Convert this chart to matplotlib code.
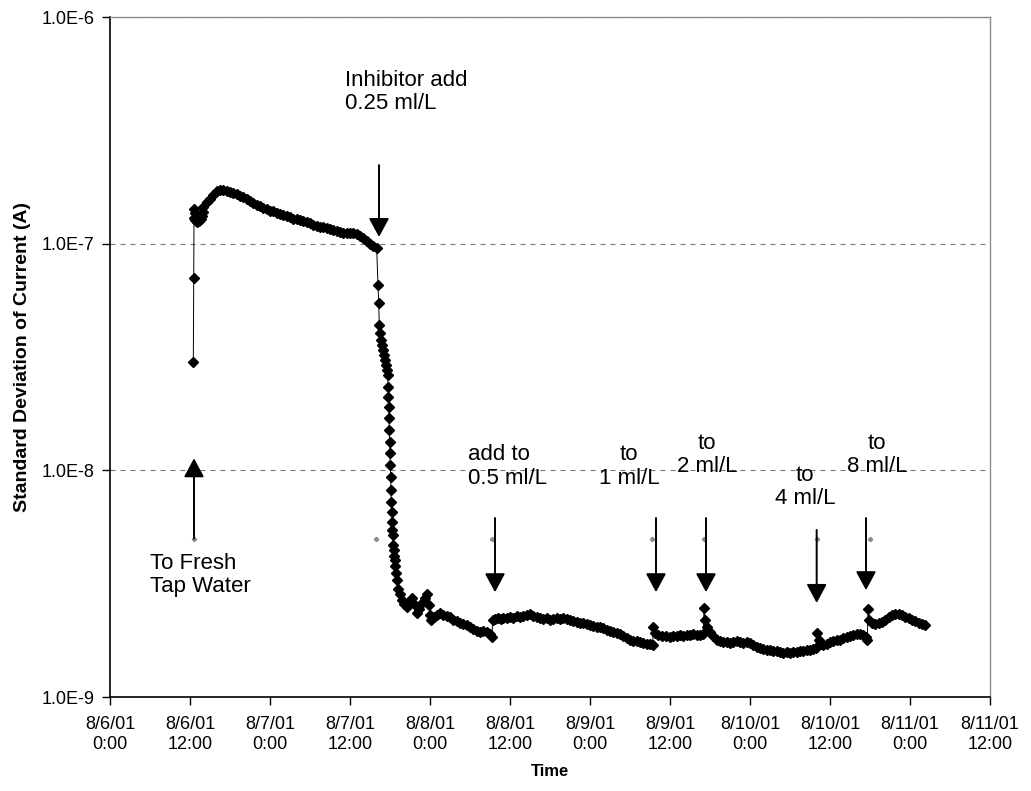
import datetime as dt

import matplotlib
matplotlib.use("Agg")
import matplotlib.pyplot as plt
import matplotlib.dates as mdates
import numpy as np
from matplotlib.ticker import FixedLocator, FuncFormatter, NullLocator

plt.rcParams["font.family"] = ["Liberation Sans", "DejaVu Sans"]

start = dt.datetime(2001, 8, 6, 0, 0)

# elapsed hours since 8/6/01 0:00 and the standard deviation of current (A)
hours = [
    12.50, 12.55, 12.60, 12.65, 12.70, 12.80, 12.90, 13.00, 13.15, 13.30,
    13.45, 13.60, 13.75, 13.90, 14.00,
    14.5, 15.0, 15.5, 16.0, 16.5, 17.0, 17.5, 18.0, 18.5, 19.0,
    19.5, 20.0, 20.5, 21.0, 21.5, 22.0, 22.5, 23.0, 23.5, 24.0,
    24.5, 25.0, 25.5, 26.0, 26.5, 27.0, 27.5, 28.0, 28.5, 29.0,
    29.5, 30.0, 30.5, 31.0, 31.5, 32.0, 32.5, 33.0, 33.5, 34.0,
    34.5, 35.0, 35.5, 36.0, 36.5, 37.0, 37.5, 38.0, 38.5, 39.0,
    39.5, 40.0,
    40.2, 40.3, 40.4, 40.5, 40.65, 40.8, 40.95, 41.1, 41.25, 41.4,
    41.55, 41.65, 41.7, 41.75, 41.8, 41.85, 41.9, 41.95, 42.0, 42.05,
    42.1, 42.15, 42.2, 42.25, 42.3, 42.35, 42.4, 42.5, 42.55, 42.65,
    42.7, 42.8, 42.95, 43.1,
    43.2, 43.5, 43.8, 44.1, 44.5, 44.9, 45.3, 45.7, 46.05, 46.4,
    46.8, 47.2, 47.55, 47.85, 48.0, 48.2, 48.6, 49.0, 49.5, 50.0,
    50.5, 51.0, 51.5, 52.0, 52.5, 53.0, 53.5, 54.0, 54.5, 55.0,
    55.5, 56.0, 56.5, 57.0, 57.3,
    57.4, 57.8, 58.2, 58.6, 59.0, 59.5, 60.0, 60.5, 61.0, 61.5,
    62.0, 62.5, 63.0, 63.5, 64.0, 64.5, 65.0, 65.5, 66.0, 66.5,
    67.0, 67.5, 68.0, 68.5, 69.0, 69.5, 70.0, 70.5, 71.0, 71.5,
    72.0, 72.5, 73.0, 73.5, 74.0, 74.5, 75.0, 75.5, 76.0, 76.5,
    77.0, 77.5, 78.0, 78.5, 79.0, 79.5, 80.0, 80.5, 81.0, 81.4,
    81.5, 81.8, 82.2, 82.8, 83.4, 84.0, 84.5, 85.0, 85.5, 86.0,
    86.5, 87.0, 87.5, 88.0, 88.5, 89.0,
    89.1, 89.3, 89.6, 90.0, 90.5, 91.0, 91.5, 92.0, 92.5, 93.0,
    93.5, 94.0, 94.5, 95.0, 95.5, 96.0, 96.5, 97.0, 97.5, 98.0,
    98.5, 99.0, 99.5, 100.0, 100.5, 101.0, 101.5, 102.0, 102.5, 103.0,
    103.5, 104.0, 104.5, 105.0, 105.5, 105.9,
    106.0, 106.3, 106.6, 107.0, 107.5, 108.0, 108.5, 109.0, 109.5, 110.0,
    110.5, 111.0, 111.5, 112.0, 112.5, 113.0, 113.4, 113.6,
    113.7, 113.9, 114.3, 114.8, 115.3, 115.8, 116.3, 116.8, 117.3, 117.8,
    118.3, 118.8, 119.3, 119.8, 120.3, 120.8, 121.3, 121.8, 122.3,
]
std_current = [
    3.0e-8, 7.05e-8, 1.30e-7, 1.42e-7, 1.36e-7, 1.27e-7, 1.30e-7, 1.24e-7, 1.29e-7, 1.26e-7,
    1.31e-7, 1.28e-7, 1.33e-7, 1.38e-7, 1.45e-7,
    1.52e-7, 1.58e-7, 1.64e-7, 1.70e-7, 1.73e-7, 1.72e-7, 1.70e-7, 1.69e-7, 1.67e-7, 1.65e-7,
    1.62e-7, 1.60e-7, 1.57e-7, 1.54e-7, 1.51e-7, 1.48e-7, 1.46e-7, 1.44e-7, 1.42e-7, 1.40e-7,
    1.39e-7, 1.37e-7, 1.35e-7, 1.34e-7, 1.32e-7, 1.31e-7, 1.29e-7, 1.28e-7, 1.27e-7, 1.26e-7,
    1.24e-7, 1.23e-7, 1.21e-7, 1.20e-7, 1.19e-7, 1.18e-7, 1.17e-7, 1.16e-7, 1.15e-7, 1.14e-7,
    1.13e-7, 1.12e-7, 1.12e-7, 1.11e-7, 1.11e-7, 1.10e-7, 1.08e-7, 1.06e-7, 1.03e-7, 1.00e-7,
    9.8e-8, 9.55e-8,
    6.57e-8, 5.47e-8, 4.38e-8, 4.04e-8, 3.76e-8, 3.57e-8, 3.40e-8, 3.23e-8, 3.07e-8, 2.92e-8,
    2.77e-8, 2.64e-8, 2.33e-8, 2.11e-8, 1.90e-8, 1.70e-8, 1.51e-8, 1.33e-8, 1.19e-8, 1.06e-8,
    9.35e-9, 8.19e-9, 7.25e-9, 6.55e-9, 5.92e-9, 5.46e-9, 5.19e-9, 4.69e-9, 4.46e-9, 4.19e-9,
    4.02e-9, 3.78e-9, 3.52e-9, 3.28e-9,
    3.00e-9, 2.85e-9, 2.68e-9, 2.58e-9, 2.50e-9, 2.62e-9, 2.73e-9, 2.55e-9, 2.35e-9, 2.45e-9,
    2.60e-9, 2.72e-9, 2.84e-9, 2.55e-9, 2.30e-9, 2.19e-9, 2.25e-9, 2.30e-9, 2.35e-9, 2.30e-9,
    2.27e-9, 2.25e-9, 2.19e-9, 2.17e-9, 2.13e-9, 2.10e-9, 2.08e-9, 2.04e-9, 2.00e-9, 1.96e-9,
    1.94e-9, 1.96e-9, 1.93e-9, 1.90e-9, 1.84e-9,
    2.19e-9, 2.21e-9, 2.23e-9, 2.21e-9, 2.23e-9, 2.23e-9, 2.25e-9, 2.24e-9, 2.27e-9, 2.25e-9,
    2.28e-9, 2.30e-9, 2.33e-9, 2.28e-9, 2.25e-9, 2.23e-9, 2.21e-9, 2.23e-9, 2.19e-9, 2.21e-9,
    2.23e-9, 2.21e-9, 2.23e-9, 2.21e-9, 2.19e-9, 2.17e-9, 2.15e-9, 2.12e-9, 2.11e-9, 2.10e-9,
    2.08e-9, 2.06e-9, 2.04e-9, 2.04e-9, 2.02e-9, 1.98e-9, 1.96e-9, 1.94e-9, 1.92e-9, 1.90e-9,
    1.86e-9, 1.82e-9, 1.79e-9, 1.77e-9, 1.76e-9, 1.75e-9, 1.73e-9, 1.72e-9, 1.72e-9, 1.70e-9,
    2.04e-9, 1.92e-9, 1.88e-9, 1.86e-9, 1.86e-9, 1.84e-9, 1.86e-9, 1.86e-9, 1.88e-9, 1.86e-9,
    1.88e-9, 1.88e-9, 1.90e-9, 1.88e-9, 1.88e-9, 1.90e-9,
    2.47e-9, 2.19e-9, 2.04e-9, 1.94e-9, 1.86e-9, 1.79e-9, 1.77e-9, 1.75e-9, 1.75e-9, 1.73e-9,
    1.75e-9, 1.77e-9, 1.75e-9, 1.73e-9, 1.75e-9, 1.73e-9, 1.70e-9, 1.67e-9, 1.65e-9, 1.63e-9,
    1.62e-9, 1.61e-9, 1.60e-9, 1.59e-9, 1.58e-9, 1.57e-9, 1.58e-9, 1.57e-9, 1.58e-9, 1.58e-9,
    1.59e-9, 1.60e-9, 1.61e-9, 1.62e-9, 1.63e-9, 1.65e-9,
    1.92e-9, 1.79e-9, 1.72e-9, 1.70e-9, 1.72e-9, 1.75e-9, 1.77e-9, 1.79e-9, 1.79e-9, 1.82e-9,
    1.84e-9, 1.86e-9, 1.88e-9, 1.90e-9, 1.90e-9, 1.88e-9, 1.84e-9, 1.79e-9,
    2.45e-9, 2.19e-9, 2.12e-9, 2.10e-9, 2.12e-9, 2.15e-9, 2.19e-9, 2.25e-9, 2.30e-9, 2.33e-9,
    2.33e-9, 2.30e-9, 2.25e-9, 2.23e-9, 2.19e-9, 2.17e-9, 2.12e-9, 2.10e-9, 2.08e-9,
]

# small event markers at each water change / inhibitor addition
event_hours = [12.6, 39.9, 57.3, 81.3, 89.1, 106.05, 114.0]
event_level = 5.0e-9

notes = ["To Fresh\nTap Water", "Inhibitor add\n0.25 ml/L", "add to\n0.5 ml/L",
         "to\n1 ml/L", "to\n2 ml/L", "to\n4 ml/L", "to\n8 ml/L"]
note_hours = [6.0, 35.25, 53.7, 77.85, 89.55, 104.25, 115.05]
note_level = [3.45e-9, 4.67e-7, 1.04e-8, 1.04e-8, 1.17e-8, 8.44e-9, 1.17e-8]
note_align = ["left", "left", "left", "center", "center", "center", "center"]

arrow_hours = [12.6, 40.35, 57.75, 81.9, 89.4, 106.0, 113.4]
arrow_from = [5.0e-9, 2.22e-7, 6.16e-9, 6.16e-9, 6.16e-9, 5.46e-9, 6.16e-9]
arrow_to = [1.13e-8, 1.07e-7, 2.90e-9, 2.90e-9, 2.90e-9, 2.60e-9, 2.96e-9]


def at(h):
    return mdates.date2num(start + dt.timedelta(hours=h))


def time_label(v, pos):
    d = start + dt.timedelta(hours=round((v - at(0)) * 24))
    return f"{d.month}/{d.day}/{d:%y}\n{d.hour}:{d:%M}"


fig = plt.figure(figsize=(10.31, 7.91), dpi=100)
ax = fig.add_axes([110 / 1031, 94 / 791, 880 / 1031, 680 / 791])

ax.plot([at(h) for h in hours], std_current, color="black", lw=0.7,
        marker="D", ms=4.6, mfc="black", mec="black", zorder=3)
ax.plot([at(h) for h in event_hours], [event_level] * len(event_hours),
        ls="none", marker="D", ms=2.2, color="#8a8a8a", zorder=3)

for h, y0, y1 in zip(arrow_hours, arrow_from, arrow_to):
    ax.annotate("", xy=(at(h), y1), xytext=(at(h), y0),
                arrowprops=dict(arrowstyle="-|>,head_length=1.15,head_width=0.62",
                                mutation_scale=10, lw=1.4, color="black",
                                shrinkA=0, shrinkB=0), zorder=4)

for s, h, y, ha in zip(notes, note_hours, note_level, note_align):
    ax.text(at(h), y, s, ha=ha, va="center", multialignment=ha,
            fontsize=16, linespacing=1.15, zorder=5)

ax.set_xlim(at(0), at(132))
ax.xaxis.set_major_locator(mdates.HourLocator(byhour=[0, 12]))
ax.xaxis.set_major_formatter(FuncFormatter(time_label))

ax.set_yscale("log")
ax.set_ylim(1e-9, 1e-6)
ax.yaxis.set_major_locator(FixedLocator([1e-9, 1e-8, 1e-7, 1e-6]))
ax.yaxis.set_minor_locator(NullLocator())
ax.yaxis.set_major_formatter(
    FuncFormatter(lambda v, pos: f"1.0E{int(round(np.log10(v)))}"))

ax.yaxis.grid(True, color="#777777", lw=0.8, ls=(0, (4.5, 4.5)))
ax.set_axisbelow(True)

ax.tick_params(axis="both", direction="out", length=6, width=1,
               labelsize=13, color="black")
ax.tick_params(axis="x", pad=8)
ax.tick_params(axis="y", pad=5)

for side in ("left", "bottom"):
    ax.spines[side].set_color("black")
    ax.spines[side].set_linewidth(1.2)
for side in ("top", "right"):
    ax.spines[side].set_color("#8c8c8c")
    ax.spines[side].set_linewidth(1.0)

ax.set_xlabel("Time", fontsize=12, fontweight="bold", labelpad=8)
ax.set_ylabel("Standard Deviation of Current (A)", fontsize=14,
              fontweight="bold", labelpad=8)

fig.savefig("out.png", dpi=100)
